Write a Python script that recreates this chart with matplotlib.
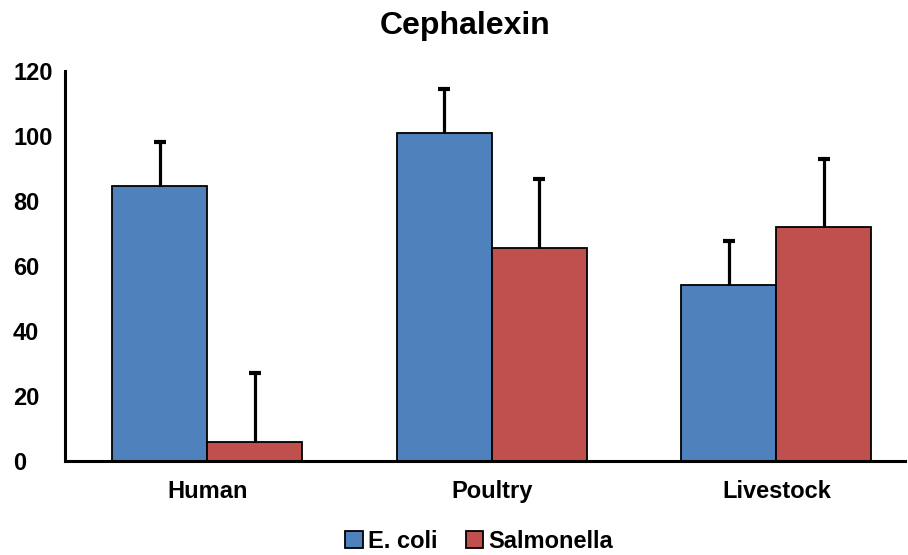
import matplotlib
matplotlib.use("Agg")
import matplotlib.pyplot as plt
import numpy as np

categories = ["Human", "Poultry", "Livestock"]
ecoli = [84.6, 100.8, 54.0]
ecoli_err = [13.6, 13.6, 13.6]
salmonella = [5.8, 65.5, 71.8]
salmonella_err = [21.2, 21.2, 21.2]
series_names = ["E. coli", "Salmonella"]
yticks = [0, 20, 40, 60, 80, 100, 120]

plt.rcParams['font.family'] = ['Liberation Sans', 'DejaVu Sans']

fig = plt.figure(figsize=(9.08, 5.55), dpi=100)
ax = fig.add_axes([65/908, 1 - 460.5/555, 840/908, (460.5 - 71)/555])

x = np.arange(len(categories))
w = 0.334
blue = "#4F81BD"
red = "#C0504D"


def draw(xpos, vals, errs, color, label):
    ax.bar(xpos, vals, w, color=color, edgecolor="black", linewidth=1.3,
           label=label, zorder=2)
    eb = ax.errorbar(xpos, vals, yerr=[np.zeros(len(vals)), errs], fmt="none",
                     ecolor="black", elinewidth=2.3, capsize=4, capthick=3,
                     zorder=3)
    for cl in eb[1]:
        if np.allclose(cl.get_ydata(), vals):
            cl.set_visible(False)


draw(x - w/2, ecoli, ecoli_err, blue, series_names[0])
draw(x + w/2, salmonella, salmonella_err, red, series_names[1])

ax.set_xlim(-0.5, 2.452)
ax.set_ylim(0, 120)
ax.set_yticks(yticks)
ax.set_xticks(x)
ax.set_xticklabels(categories, fontsize=17, fontweight="bold")
for lab in ax.get_yticklabels():
    lab.set_fontsize(17)
    lab.set_fontweight("bold")
    lab.set_horizontalalignment("left")
ax.tick_params(axis="both", length=0)
ax.tick_params(axis="x", pad=14)
ax.tick_params(axis="y", pad=37.4)
for s in ["top", "right"]:
    ax.spines[s].set_visible(False)
for s in ["left", "bottom"]:
    ax.spines[s].set_linewidth(2.2)
    ax.spines[s].set_zorder(4)

fig.text(465/908, 1 - 26/555, "Cephalexin", ha="center", va="center",
         fontsize=23, fontweight="bold")

leg = fig.legend(loc="center", bbox_to_anchor=(479/908, 1 - 541/555), ncol=2,
                 frameon=False, prop=dict(size=17, weight="bold"),
                 handlelength=0.75, handleheight=0.75, handletextpad=0.2,
                 columnspacing=1.2)

fig.savefig("out.png", dpi=100)
